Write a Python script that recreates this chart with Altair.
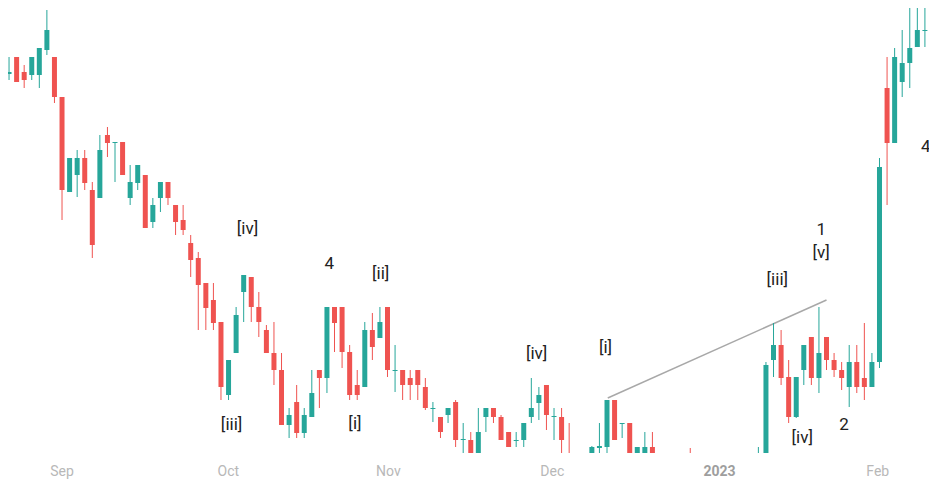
import altair as alt
import pandas as pd

# Candle values (price units), one per trading bar, left to right
opens = [39.6, 41.3, 39.8, 39.5, 39.5, 42.0, 41.3, 37.3, 27.8, 29.5,
         31.2, 28.0, 27.2, 33.5, 32.7, 32.8, 27.2, 28.7, 29.5, 24.8,
         27.2, 28.8, 26.5, 25.0, 22.7, 21.2, 18.7, 17.0, 14.8, 7.5,
         11.7, 17.8, 19.3, 16.3, 14.0, 11.7, 10.0, 4.5, 6.8, 3.7,
         5.3, 10.0, 9.2, 16.3, 16.3, 11.8, 8.5, 8.3, 14.0, 13.2,
         16.3, 9.9, 10.0, 9.2, 10.0, 8.3, 6.1, 5.3, 5.5, 6.8,
         3.0, 3.0, 1.7, 5.3, 6.2, 5.3, 3.8, 2.9, 3.0, 5.3,
         6.7, 8.5, 5.3, 5.3, 1.0, 0.5, -0.8, 0.8, 2.2, 2.3,
         7.0, 4.6, 4.7, 1.0, 1.0, 2.3, 0.8, -1.0, -2.0, -1.5,
         0.5, -1.0, -2.5, -3.5, -2.8, -3.8, -4.5, -3.0, -1.5, -0.5,
         0.2, 11.0, 12.5, 9.3, 5.3, 10.0, 13.3, 9.2, 13.3, 11.0,
         10.0, 8.3, 10.8, 9.2, 8.3, 10.8, 38.2, 32.7, 38.8, 40.7,
         42.3, 43.9, 44.0]
highs = [41.3, 41.3, 40.5, 41.3, 42.2, 46.0, 41.3, 37.3, 31.2, 32.0,
         32.0, 28.8, 33.5, 34.3, 32.8, 32.8, 30.5, 30.5, 29.5, 27.2,
         28.8, 28.8, 26.5, 26.5, 23.5, 21.8, 18.7, 18.7, 14.8, 11.0,
         16.3, 19.5, 19.3, 17.8, 14.5, 14.8, 11.7, 6.2, 8.5, 6.2,
         10.0, 10.0, 16.3, 16.3, 16.3, 12.5, 10.0, 14.8, 15.7, 16.3,
         16.3, 12.5, 10.0, 10.0, 10.0, 9.2, 6.8, 5.3, 6.2, 7.0,
         4.7, 3.8, 6.2, 6.2, 6.2, 5.5, 3.8, 3.8, 4.7, 9.2,
         8.3, 8.5, 6.2, 6.2, 4.7, 1.2, 0.8, 2.4, 4.7, 7.0,
         7.0, 4.7, 4.7, 2.3, 3.8, 3.8, 1.2, 0.5, -0.5, 0.8,
         2.2, 0.3, -1.0, -2.0, -1.5, -2.5, -2.8, -1.0, 0.5, 2.3,
         10.8, 14.7, 14.0, 11.0, 9.3, 12.5, 13.3, 16.3, 13.3, 11.7,
         10.8, 12.5, 12.5, 14.7, 11.7, 31.2, 41.3, 42.2, 44.0, 47.5,
         47.5, 47.5, 44.5]
lows = [39.0, 38.8, 38.2, 39.0, 38.2, 41.5, 36.7, 25.0, 27.8, 27.3,
        28.0, 21.2, 27.2, 31.3, 28.8, 29.5, 26.5, 28.0, 24.2, 24.2,
        25.8, 26.5, 23.5, 23.5, 19.3, 14.0, 14.0, 14.0, 7.0, 7.0,
        11.7, 14.8, 14.8, 13.3, 11.7, 8.5, 4.5, 3.2, 3.2, 3.2,
        5.3, 6.2, 7.7, 11.8, 10.2, 7.0, 7.0, 8.3, 11.0, 13.2,
        9.3, 7.8, 7.0, 7.0, 7.0, 6.0, 4.8, 3.2, 4.7, 2.3,
        1.7, 1.7, 1.7, 3.8, 4.7, 3.0, 2.3, 2.3, 2.3, 4.7,
        5.0, 4.0, 3.0, 1.7, -0.5, -1.5, -2.0, 0.3, 0.8, 1.2,
        3.0, 3.2, 0.5, 0.5, 0.5, 0.5, -1.5, -2.5, -3.5, -2.5,
        -2.0, -3.0, -4.0, -5.0, -4.0, -5.5, -5.5, -3.5, -2.5, -1.5,
        -0.5, 9.3, 8.5, 4.7, 5.2, 8.5, 8.5, 7.7, 10.0, 9.3,
        8.0, 6.3, 7.7, 7.0, 8.3, 10.2, 26.5, 32.7, 37.3, 38.2,
        42.3, 42.3, 36.0]
closes = [39.8, 38.8, 39.0, 41.3, 42.2, 44.0, 37.3, 28.0, 31.2, 31.2,
          28.7, 22.5, 32.0, 32.7, 32.8, 29.5, 28.8, 30.5, 24.2, 26.5,
          28.8, 27.2, 24.8, 24.0, 21.0, 18.5, 16.2, 14.7, 8.3, 11.0,
          15.5, 19.5, 16.3, 14.8, 11.7, 10.0, 4.5, 5.5, 3.7, 5.5,
          7.7, 9.2, 16.3, 14.7, 11.8, 7.5, 7.5, 14.0, 12.3, 14.8,
          10.0, 10.0, 8.5, 8.5, 8.5, 6.2, 6.2, 3.8, 6.2, 3.0,
          3.1, 1.7, 3.8, 6.2, 5.3, 3.0, 2.3, 3.0, 4.7, 6.2,
          7.5, 5.5, 5.4, 3.0, 0.0, -0.8, 0.2, 2.3, 2.4, 7.0,
          3.0, 4.7, 0.8, 2.3, 2.3, 0.8, -1.0, -2.0, -1.5, -2.2,
          -1.0, -2.5, -3.5, -2.8, -3.8, -4.5, -3.0, -1.5, -0.5, 0.2,
          10.5, 12.5, 9.2, 5.3, 9.3, 12.5, 9.2, 11.7, 11.0, 10.0,
          9.2, 10.8, 8.3, 8.3, 10.8, 30.3, 32.7, 41.3, 40.7, 42.2,
          44.0, 44.0, 39.0]

# Time-axis labels and their bar positions
month_labels = ["Sep", "Oct", "Nov", "Dec", "2023", "Feb"]
month_pos = [6.93, 28.9, 50.05, 71.7, 93.8, 114.7]

# Wave annotations
wave_text = ["[iv]", "[iii]", "4", "[ii]", "[i]", "[iv]", "[i]", "[iii]",
             "1", "[v]", "[iv]", "2", "4"]
wave_i = [31.5, 29.4, 42.3, 49.1, 45.7, 69.7, 78.8, 101.5,
          107.3, 107.3, 104.8, 110.3, 121.1]
wave_p = [24.1, 4.5, 20.6, 19.6, 4.6, 11.6, 12.2, 19.0,
          24.0, 21.7, 3.2, 4.5, 32.3]

# Trend line endpoints
trend_i = [79.1, 108.0]
trend_p = [7.2, 17.0]

GREEN = "#26a69a"
RED = "#ef5350"

df = pd.DataFrame({"i": list(range(len(opens))), "open": opens, "high": highs,
                   "low": lows, "close": closes})
labels_df = pd.DataFrame({"i": wave_i, "p": wave_p, "t": wave_text})
trend_df = pd.DataFrame({"i": trend_i, "p": trend_p})

expr = "''"
for pos, lab in reversed(list(zip(month_pos, month_labels))):
    expr = f"abs(datum.value - {pos}) < 0.5 ? '{lab}' : {expr}"

year_test = "abs(datum.value - 93.8) < 0.5"

xscale = alt.Scale(domain=[0.523, 120.88], nice=False, zero=False)
yscale = alt.Scale(domain=[1.7, 46.2], nice=False, zero=False)

xaxis = alt.Axis(values=month_pos, labelExpr=expr, ticks=False, domain=False,
                 grid=False, title=None, labelFontSize=14, labelFont="Roboto",
                 labelPadding=11, labelFlush=False, labelOverlap=False,
                 labelColor={"condition": {"test": year_test, "value": "#9e9e9e"},
                             "value": "#b8b8b8"},
                 labelFontWeight={"condition": {"test": year_test, "value": "bold"},
                                  "value": "normal"})

color = alt.condition("datum.close >= datum.open", alt.value(GREEN), alt.value(RED))

base = alt.Chart(df)

wicks = base.mark_rule(clip=True, strokeWidth=1).encode(
    x=alt.X("i:Q", scale=xscale, axis=xaxis),
    y=alt.Y("low:Q", scale=yscale, axis=None),
    y2="high:Q",
    color=color,
)

bodies = base.mark_bar(clip=True, size=5).encode(
    x=alt.X("i:Q", scale=xscale),
    y=alt.Y("open:Q", scale=yscale, axis=None),
    y2="close:Q",
    color=color,
)

trend = alt.Chart(trend_df).mark_line(color="#a8a8a8", strokeWidth=1.5, clip=True).encode(
    x=alt.X("i:Q", scale=xscale),
    y=alt.Y("p:Q", scale=yscale, axis=None),
)

texts = alt.Chart(labels_df).mark_text(fontSize=17, font="Roboto", color="#222222",
                                       clip=True).encode(
    x=alt.X("i:Q", scale=xscale),
    y=alt.Y("p:Q", scale=yscale, axis=None),
    text="t:N",
)

chart = alt.layer(trend, wicks, bodies, texts).properties(
    width=921, height=445,
    autosize=alt.AutoSizeParams(type="none"),
    padding={"left": 0, "right": 0, "top": 0, "bottom": 27},
    background="white",
).configure_view(strokeWidth=0)

chart.save("out.html", embed_options={"renderer": "svg", "actions": False})
